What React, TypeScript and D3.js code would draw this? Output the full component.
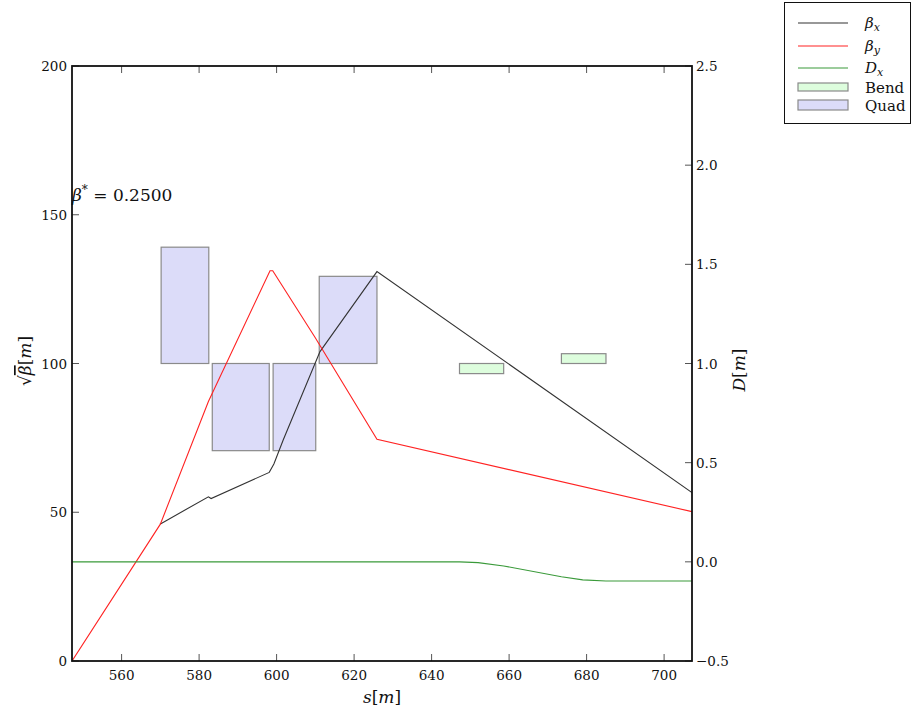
import React from "react";
import * as d3 from "d3";

// Lattice functions along the beamline
const betaXS = [569.9, 582.4, 583.1, 598.1, 599.3, 601.7, 611.2, 625.9, 707.2];
const betaXV = [46.0, 55.2, 54.6, 63.4, 66.2, 74.3, 104.0, 130.9, 56.6];
const betaYS = [547.2, 570.0, 582.4, 598.3, 599.0, 609.9, 625.9, 707.2];
const betaYV = [0, 46.0, 87.2, 131.2, 131.2, 108.8, 74.5, 50.2];
const dispS = [547.2, 647.2, 652.0, 658.6, 673.5, 679.0, 685.0, 707.2];
const dispV = [0.0, 0.0, -0.004, -0.021, -0.075, -0.091, -0.097, -0.097];

// Magnet layout: element start/end and strength-like height around the base line
const elementBase = 100;
const quadS0 = [570.2, 583.4, 599.1, 611.0];
const quadS1 = [582.5, 598.1, 610.1, 625.9];
const quadH = [39.1, -29.3, -29.3, 29.3];
const bendS0 = [647.2, 673.5];
const bendS1 = [658.6, 685.0];
const bendH = [-3.4, 3.3];

const sTicks = [560, 580, 600, 620, 640, 660, 680, 700];
const betaTicks = [0, 50, 100, 150, 200];
const dTicks = [-0.5, 0.0, 0.5, 1.0, 1.5, 2.0, 2.5];

const betaStar = "0.2500";

const W = 912;
const H = 713;
const left = 72;
const right = 692;
const top = 66;
const bottom = 661;
const FONT = "DejaVu Serif";
const TICK = 7;
const TICK_FS = 13.5;

export default function App() {
  const x = d3.scaleLinear().domain([547.2, 707.2]).range([left, right]);
  const yB = d3.scaleLinear().domain([0, 200]).range([bottom, top]);
  const yD = d3.scaleLinear().domain([-0.5, 2.5]).range([bottom, top]);

  const lineB = d3
    .line<[number, number]>()
    .x((d) => x(d[0]))
    .y((d) => yB(d[1]));
  const lineD = d3
    .line<[number, number]>()
    .x((d) => x(d[0]))
    .y((d) => yD(d[1]));

  const bx = betaXS.map((s, i) => [s, betaXV[i]] as [number, number]);
  const by = betaYS.map((s, i) => [s, betaYV[i]] as [number, number]);
  const dx = dispS.map((s, i) => [s, dispV[i]] as [number, number]);

  const fmtD = d3.format(".1f");

  const rectOf = (s0: number, s1: number, h: number) => {
    const a = yB(elementBase);
    const b = yB(elementBase + h);
    return { x: x(s0), y: Math.min(a, b), w: x(s1) - x(s0), h: Math.abs(a - b) };
  };

  const legendX0 = 798;
  const legendX1 = 848;
  const legendTx = 865;

  return (
    <svg
      width={W}
      height={H}
      style={{ position: "absolute", left: 0, top: 0, background: "#fff" }}
      fontFamily={FONT}
    >
      <rect x={0} y={0} width={W} height={H} fill="#fff" />
      <defs>
        <clipPath id="plotClip">
          <rect x={left} y={top} width={right - left} height={bottom - top} />
        </clipPath>
      </defs>

      <g clipPath="url(#plotClip)">
        {quadS0.map((s0, i) => {
          const r = rectOf(s0, quadS1[i], quadH[i]);
          return (
            <rect key={"q" + i} x={r.x} y={r.y} width={r.w} height={r.h}
              fill="#dcdcf9" stroke="#8a8a8a" strokeWidth={1.2} />
          );
        })}
        {bendS0.map((s0, i) => {
          const r = rectOf(s0, bendS1[i], bendH[i]);
          return (
            <rect key={"b" + i} x={r.x} y={r.y} width={r.w} height={r.h}
              fill="#ddfddd" stroke="#8a8a8a" strokeWidth={1.2} />
          );
        })}
        <path d={lineB(bx) || ""} fill="none" stroke="#333" strokeWidth={1.1} />
        <path d={lineB(by) || ""} fill="none" stroke="#f22" strokeWidth={1.1} />
        <path d={lineD(dx) || ""} fill="none" stroke="#3a9a3a" strokeWidth={1.1} />
      </g>

      {/* x ticks, bottom and top, pointing inward */}
      {sTicks.map((t) => (
        <g key={"xs" + t}>
          <line x1={x(t)} x2={x(t)} y1={bottom} y2={bottom - TICK} stroke="#555" strokeWidth={1} />
          <line x1={x(t)} x2={x(t)} y1={top} y2={top + TICK} stroke="#555" strokeWidth={1} />
          <text x={x(t)} y={bottom + 19} fontSize={TICK_FS} textAnchor="middle" fill="#111">{t}</text>
        </g>
      ))}
      {/* left axis */}
      {betaTicks.map((t) => (
        <g key={"yb" + t}>
          <line x1={left} x2={left + TICK} y1={yB(t)} y2={yB(t)} stroke="#555" strokeWidth={1} />
          <text x={left - 5} y={yB(t) + 5} fontSize={TICK_FS} textAnchor="end" fill="#111">{t}</text>
        </g>
      ))}
      {/* right axis */}
      {dTicks.map((t) => (
        <g key={"yd" + t}>
          <line x1={right} x2={right - TICK} y1={yD(t)} y2={yD(t)} stroke="#555" strokeWidth={1} />
          <text x={right + 4} y={yD(t) + 5} fontSize={TICK_FS} textAnchor="start" fill="#111">{fmtD(t)}</text>
        </g>
      ))}

      <rect x={left} y={top} width={right - left} height={bottom - top} fill="none" stroke="#111" strokeWidth={1.8} />

      {/* annotation */}
      <text x={left} y={201} fontSize={17} fill="#111">
        <tspan fontStyle="italic">β</tspan>
        <tspan fontSize={12} dy={-7}>*</tspan>
        <tspan dy={7}> = {betaStar}</tspan>
      </text>

      {/* axis labels */}
      <text x={382} y={703} fontSize={17} textAnchor="middle" fill="#111">
        <tspan fontStyle="italic">s</tspan>[<tspan fontStyle="italic">m</tspan>]
      </text>
      <g transform="translate(31,361) rotate(-90)">
        <text x={0} y={0} fontSize={17} textAnchor="middle" fill="#111">
          √<tspan fontStyle="italic" textDecoration="overline">β</tspan>[<tspan fontStyle="italic">m</tspan>]
        </text>
      </g>
      <g transform="translate(745,370) rotate(-90)">
        <text x={0} y={0} fontSize={17} textAnchor="middle" fill="#111">
          <tspan fontStyle="italic">D</tspan>[<tspan fontStyle="italic">m</tspan>]
        </text>
      </g>

      {/* legend */}
      <rect x={784.5} y={2.5} width={126} height={121} fill="#fff" stroke="#111" strokeWidth={1} />
      <line x1={legendX0} x2={legendX1} y1={23} y2={23} stroke="#333" strokeWidth={1.1} />
      <line x1={legendX0} x2={legendX1} y1={46} y2={46} stroke="#f22" strokeWidth={1.1} />
      <line x1={legendX0} x2={legendX1} y1={68} y2={68} stroke="#3a9a3a" strokeWidth={1.1} />
      <rect x={legendX0} y={83} width={legendX1 - legendX0} height={8} fill="#ddfddd" stroke="#8a8a8a" strokeWidth={1.2} />
      <rect x={legendX0} y={100} width={legendX1 - legendX0} height={10} fill="#dcdcf9" stroke="#8a8a8a" strokeWidth={1.2} />
      <text x={legendTx} y={28} fontSize={15} fill="#111">
        <tspan fontStyle="italic">β</tspan><tspan fontStyle="italic" fontSize={11} dy={3}>x</tspan>
      </text>
      <text x={legendTx} y={51} fontSize={15} fill="#111">
        <tspan fontStyle="italic">β</tspan><tspan fontStyle="italic" fontSize={11} dy={3}>y</tspan>
      </text>
      <text x={legendTx} y={73} fontSize={15} fill="#111">
        <tspan fontStyle="italic">D</tspan><tspan fontStyle="italic" fontSize={11} dy={3}>x</tspan>
      </text>
      <text x={legendTx} y={93} fontSize={15} fill="#111">Bend</text>
      <text x={legendTx} y={111} fontSize={15} fill="#111">Quad</text>
    </svg>
  );
}
